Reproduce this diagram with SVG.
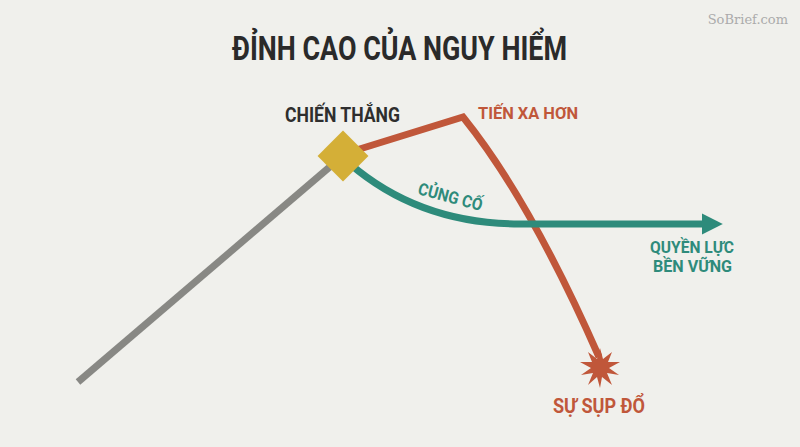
<svg xmlns="http://www.w3.org/2000/svg" width="800" height="447" viewBox="0 0 800 447">
<defs>
<style>
.t{font-family:Roboto,"Liberation Sans",sans-serif;font-weight:700}
.or{fill:#C0573A}.tl{fill:#2E8B7B}
</style>
<marker id="ah" viewBox="0 0 10 10" refX="2" refY="5" markerWidth="3" markerHeight="3.2" orient="auto" markerUnits="strokeWidth">
<path d="M0,0 L10,5 L0,10 Z" fill="#2E8B7B"/>
</marker>
</defs>
<rect width="800" height="447" fill="#F0F0EC"/>
<text x="788" y="24" text-anchor="end" font-family="'DejaVu Serif','Liberation Serif',serif" font-size="13" fill="#ABABAB">SoBrief.com</text>
<text class="t" x="232" y="60" font-size="34" fill="#2A2A2A" textLength="335" lengthAdjust="spacingAndGlyphs">ĐỈNH CAO CỦA NGUY HIỂM</text>
<g id="connectors" fill="none" stroke-width="7">
<line x1="78" y1="382" x2="332" y2="165" stroke="#888884"/>
<path d="M350,152 L463,117 Q530,200 599,357" stroke="#C0573A" stroke-linejoin="miter"/>
<path d="M350,164 Q420,224 520,224 L706,224" stroke="#2E8B7B" marker-end="url(#ah)"/>
</g>
<g id="victory">
<rect x="325" y="138" width="36" height="36" fill="#D4AF37" transform="rotate(45 343 156)"/>
<text class="t" x="285" y="122" font-size="20" fill="#2E2E2E" textLength="115" lengthAdjust="spacingAndGlyphs">CHIẾN THẮNG</text>
</g>
<g id="further">
<text class="t or" x="478" y="119" font-size="17" textLength="100" lengthAdjust="spacingAndGlyphs">TIẾN XA HƠN</text>
</g>
<g id="consolidate">
<text class="t tl" x="0" y="0" font-size="17" textLength="66" lengthAdjust="spacingAndGlyphs" transform="translate(417,194) rotate(15)">CỦNG CỐ</text>
</g>
<g id="lasting">
<text class="t tl" x="650" y="253" font-size="17" textLength="84" lengthAdjust="spacingAndGlyphs">QUYỀN LỰC</text>
<text class="t tl" x="653" y="272" font-size="17" textLength="79" lengthAdjust="spacingAndGlyphs">BỀN VỮNG</text>
</g>
<g id="collapse">
<polygon fill="#C0573A" transform="translate(600,368)" points="0,-20 3,-9 12,-16 8,-6 20,-6 9,0 19,7 7,5 12,17 2,9 0,20 -3,9 -12,17 -7,5 -19,7 -9,0 -20,-6 -8,-6 -12,-16 -3,-9"/>
<text class="t or" x="553" y="413" font-size="21" textLength="92" lengthAdjust="spacingAndGlyphs">SỰ SỤP ĐỔ</text>
</g>
</svg>
